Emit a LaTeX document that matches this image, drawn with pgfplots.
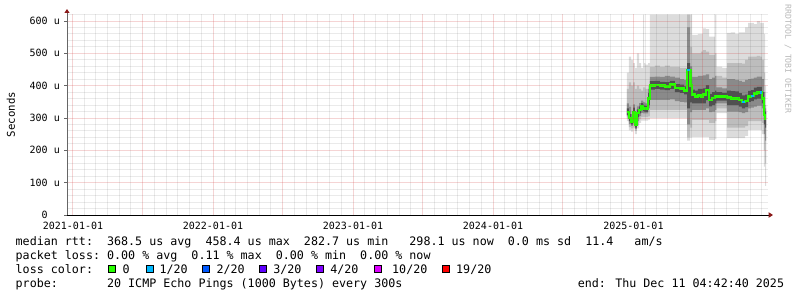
\documentclass[border=0pt]{standalone}
\usepackage{fontspec}
\usepackage{pgfplots}
\pgfplotsset{compat=1.18}
\usepackage{pgfplotstable}
\usepgfplotslibrary{fillbetween}
\usetikzlibrary{arrows.meta}
\newfontfamily\mono{DejaVu Sans Mono}
\newcommand\lgfont{\mono\fontsize{11.68bp}{14bp}\selectfont}
\newcommand\tkfont{\mono\fontsize{10bp}{12bp}\selectfont}
\definecolor{majgrid}{HTML}{D23C3C}
\definecolor{mingrid}{HTML}{505050}
\definecolor{arrowred}{HTML}{8B1A1A}
\definecolor{c0}{HTML}{26FF00}
\definecolor{c1}{HTML}{00B8FF}
\definecolor{c2}{HTML}{0059FF}
\definecolor{c3}{HTML}{5E00FF}
\definecolor{c4}{HTML}{7E00FF}
\definecolor{c10}{HTML}{DD00FF}
\definecolor{c19}{HTML}{FF0000}
\definecolor{sOut}{HTML}{DCDCDC}
\definecolor{sMid}{HTML}{BDBDBD}
\definecolor{sIn}{HTML}{8A8A8A}
\definecolor{sCore}{HTML}{505050}

\pgfplotstableread{
x olo ohi mlo mhi ilo ihi clo chi med
1444 290 440 298 390 305 345 310 330 319
1449 262 490 272 410 282 335 290 312 300
1455 258 480 268 400 276 312 280 298 289
1460 270 470 282 410 296 342 306 332 319
1465 250 455 260 390 266 302 270 290 280
1470 268 500 278 400 290 336 303 327 315
1476 285 470 296 390 306 346 314 336 325
1481 292 455 303 385 316 354 324 346 335
1486 292 620 303 395 314 350 321 341 330
1489 292 470 303 395 314 348 320 338 329
1492 292 465 303 390 314 345 319 337 328
1499 295 470 305 400 330 390 340 378 360
1504 300 620 325 458 356 427 388 414 400
1517 300 620 325 462 356 428 390 415 402
1530 300 620 325 458 356 427 388 412 400
1543 300 620 325 462 356 430 386 411 398
1556 300 620 325 458 358 428 390 415 403
1569 300 620 325 458 352 425 380 405 393
1582 300 620 325 455 350 420 378 403 391
1593 300 620 325 455 348 418 373 398 386
1601 230 620 240 620 280 580 330 470 448
1609 240 620 270 520 318 460 348 418 400
1614 242 557 294 500 325 427 345 388 372
1621 242 557 294 500 325 427 345 385 366
1629 242 560 294 500 325 430 345 390 370
1637 242 560 294 505 325 430 345 390 366
1642 242 577 294 510 325 432 345 392 372
1650 242 575 294 505 330 435 355 402 387
1658 232 552 285 495 318 420 336 375 356
1666 232 552 285 495 320 425 340 380 362
1674 235 620 290 500 325 430 345 385 366
1677 315 459 330 430 345 395 354 380 366
1692 315 455 330 425 345 392 354 378 366
1705 238 563 270 470 320 420 340 385 363
1715 238 565 270 470 320 420 340 383 361
1726 238 560 270 470 320 418 340 382 361
1736 238 565 270 470 318 415 335 377 356
1744 238 565 270 468 315 412 330 370 350
1752 245 580 275 480 318 418 334 372 352
1760 263 594 290 490 330 420 350 384 366
1767 263 594 290 490 332 422 352 386 368
1775 263 590 290 490 335 425 358 394 376
1783 263 600 290 492 338 428 360 396 379
1791 263 594 290 490 338 428 360 396 378
1796 250 594 285 480 330 420 345 380 361
1801 150 560 200 440 250 380 280 340 309
1804 90 400 160 340 230 330 270 320 298
1807 90 400 160 340 230 330 270 320 298
}\smoke

\begin{document}
\begin{tikzpicture}
\begin{axis}[
  scale only axis, width=701bp, height=201bp,
  xmin=-15.6, xmax=1811.8, ymin=0, ymax=621.7,
  axis lines=left,
  axis on top,
  x axis line style={draw=black, line width=1bp, -{Triangle[length=4.5bp,width=5.5bp,color=arrowred]}, shorten >=-5bp},
  y axis line style={draw=black!60, line width=1bp, -{Triangle[length=4bp,width=5bp,color=arrowred]}, shorten >=-5bp},
  tick align=outside,
  major tick length=2.5bp, minor tick length=0bp,
  xtick style={draw=none},
  ytick style={draw=black!60, line width=0.8bp},
  grid=both,
  major grid style={draw=majgrid, draw opacity=0.22, line width=1bp},
  minor grid style={draw=mingrid, draw opacity=0.12, line width=1bp},
  xtick={0,181,365,546,730,911,1095,1277,1461,1642},
  xticklabels={2021-01-01,,2022-01-01,,2023-01-01,,2024-01-01,,2025-01-01,},
  minor xtick={31,59,90,120,151,212,243,273,304,334,396,424,455,485,516,577,608,638,669,699,761,789,820,850,881,942,973,1003,1034,1064,1126,1155,1186,1216,1247,1308,1339,1369,1400,1430,1492,1520,1551,1581,1612,1673,1704,1734,1765,1795},
  ytick={0,100,200,300,400,500,600},
  yticklabels={{0\hphantom{~u}},100 u,200 u,300 u,400 u,500 u,600 u},
  minor ytick={20,40,60,80,120,140,160,180,220,240,260,280,320,340,360,380,420,440,460,480,520,540,560,580,620},
  ticklabel style={font=\tkfont, inner sep=0pt},
  yticklabel style={anchor=east, xshift=-4.5bp},
  xticklabel style={anchor=north, yshift=-4.5bp},
  every axis y label/.style={at={(axis description cs:-0.0799,0.5)}, rotate=90, anchor=center, font=\mono\fontsize{10.7bp}{12bp}\selectfont},
  ylabel={Seconds},
]
\addplot[name path=oLo, draw=none, const plot] table[x=x,y=olo]{\smoke};
\addplot[name path=oHi, draw=none, const plot] table[x=x,y=ohi]{\smoke};
\addplot[fill=sOut, draw=none] fill between[of=oHi and oLo];
\addplot[name path=mLo, draw=none, const plot] table[x=x,y=mlo]{\smoke};
\addplot[name path=mHi, draw=none, const plot] table[x=x,y=mhi]{\smoke};
\addplot[fill=sMid, draw=none] fill between[of=mHi and mLo];
\addplot[name path=iLo, draw=none, const plot] table[x=x,y=ilo]{\smoke};
\addplot[name path=iHi, draw=none, const plot] table[x=x,y=ihi]{\smoke};
\addplot[fill=sIn, draw=none] fill between[of=iHi and iLo];
\addplot[name path=cLo, draw=none, const plot] table[x=x,y=clo]{\smoke};
\addplot[name path=cHi, draw=none, const plot] table[x=x,y=chi]{\smoke};
\addplot[fill=sCore, draw=none] fill between[of=cHi and cLo];
\addplot[c0, line width=2.6bp, const plot, mark=none] table[x=x,y=med]{\smoke};
\addplot[c1, line width=2.6bp, const plot, mark=none] coordinates {(1601,448) (1609,448)};
\addplot[c1, line width=2.6bp, const plot, mark=none] coordinates {(1744,350) (1752,350)};
\addplot[c1, line width=2.6bp, const plot, mark=none] coordinates {(1767,368) (1775,368)};
\addplot[c1, line width=2.6bp, const plot, mark=none] coordinates {(1791,378) (1796,378)};
\end{axis}
\node[rotate=-90, font=\mono\fontsize{8.2bp}{9bp}\selectfont, text=black!28, inner sep=0pt] at (721bp,156bp) {RRDTOOL / TOBI OETIKER};
\node[anchor=base west, inner sep=0pt, font=\lgfont] at (-51.5bp,-30bp) {median rtt:~~368.5 us avg~~458.4 us max~~282.7 us min~~~298.1 us now~~0.0 ms sd~~11.4~~~am/s};
\node[anchor=base west, inner sep=0pt, font=\lgfont] at (-51.5bp,-44bp) {packet loss:~0.00 \% avg~~0.11 \% max~~0.00 \% min~~0.00 \% now};
\node[anchor=base west, inner sep=0pt, font=\lgfont] at (-51.5bp,-58bp) {loss color:};
\foreach \bx/\cc/\tx/\lab in {41.3/c0/55.5/{0}, 79/c1/92.4/{1/20}, 135.7/c2/149.4/{2/20}, 192.3/c3/206.1/{3/20}, 249/c4/263.1/{4/20}, 307/c10/325/{10/20}, 375.7/c19/389/{19/20}}{
  \draw[fill=\cc, draw=black, line width=0.8bp] (\bx bp,-57.6bp) rectangle ++(7bp,6.8bp);
  \node[anchor=base west, inner sep=0pt, font=\lgfont] at (\tx bp,-58bp) {\lab};
}
\node[anchor=base west, inner sep=0pt, font=\lgfont] at (-51.5bp,-72bp) {probe:~~~~~~~20 ICMP Echo Pings (1000 Bytes) every 300s};
\node[anchor=base west, inner sep=0pt, font=\lgfont] at (510.6bp,-72bp) {end: Thu Dec 11 04:42:40 2025};
\pgfresetboundingbox
\path[use as bounding box] (-67bp,-82bp) rectangle (730bp,215bp);
\end{tikzpicture}
\end{document}
